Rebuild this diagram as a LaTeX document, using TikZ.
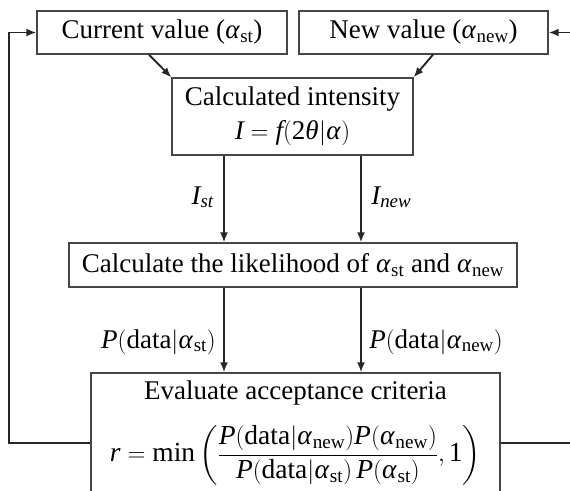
\documentclass[tikz,border=0pt]{standalone}
\usepackage{amsmath}
\usepackage{mathspec}
\setmainfont{Liberation Serif}
\setmathsfont(Digits,Latin,Greek){Liberation Serif}
\setmathrm{Liberation Serif}
\usetikzlibrary{arrows.meta,positioning,calc}
\definecolor{boxgray}{RGB}{70,70,70}

\begin{document}
\begin{tikzpicture}[
  x=1pt,y=-1pt,
  every node/.style={font=\fontsize{27}{34}\selectfont},
  box/.style={rectangle,draw=boxgray,line width=1.3pt,inner sep=0pt,align=center},
  line/.style={-{Latex[length=10pt,width=8pt]},line width=1.9pt,draw=black!85}
]
  \useasboundingbox (0,0) rectangle (570,490);
  \clip (0,0) rectangle (570,490);

  \node[box,minimum width=250,minimum height=43] (cur) at (162,32.5) {Current value ($\alpha_{\mathrm{st}}$)};
  \node[box,minimum width=249,minimum height=43] (new) at (423.5,32.5) {New value ($\alpha_{\mathrm{new}}$)};
  \node[box,minimum width=241,minimum height=77] (calc) at (292.5,116.5) {Calculated intensity\\$I=f(2\theta|\alpha)$};
  \node[box,minimum width=448,minimum height=44] (like) at (293,265) {Calculate the likelihood of $\alpha_{\mathrm{st}}$ and $\alpha_{\mathrm{new}}$};
  \node[box,minimum width=409,minimum height=140] (eval) at (295.5,443) {};
  \node[inner sep=0pt] (evaltitle) at (295.5,393) {Evaluate acceptance criteria};
  \node[font=\fontsize{27.5}{34}\selectfont,inner sep=0pt] (evalrule) at (295.5,455) {$\displaystyle r=\min\left(\frac{P(\mathrm{data}|\alpha_{\mathrm{new}})P(\alpha_{\mathrm{new}})}{P(\mathrm{data}|\alpha_{\mathrm{st}})\,P(\alpha_{\mathrm{st}})},1\right)$};

  \coordinate (stx) at ([xshift=-68.5pt]calc.south);
  \coordinate (newx) at ([xshift=68.5pt]calc.south);

  % inputs to the intensity
  \draw[line] ([xshift=-13pt]cur.south) -- (calc.north west);
  \draw[line] ([xshift=9.5pt]new.south) -- (calc.north east);
  \draw[line] (stx) -- (stx |- like.north) node[pos=0.48,left=6pt] {$I_{st}$};
  \draw[line] (newx) -- (newx |- like.north) node[pos=0.48,right=6pt] {$I_{new}$};
  \draw[line] (stx |- like.south) -- (stx |- eval.north) node[pos=0.64,left=4pt] {$P(\mathrm{data}|\alpha_{\mathrm{st}})$};
  \draw[line] (newx |- like.south) -- (newx |- eval.north) node[pos=0.64,right=4pt] {$P(\mathrm{data}|\alpha_{\mathrm{new}})$};

  % feedback loops
  \draw[line] (eval.west) -- ++(-81,0) |- (cur.west);
  \draw[line] (eval.east) -- ++(80,0) |- (new.east);
\end{tikzpicture}
\end{document}
